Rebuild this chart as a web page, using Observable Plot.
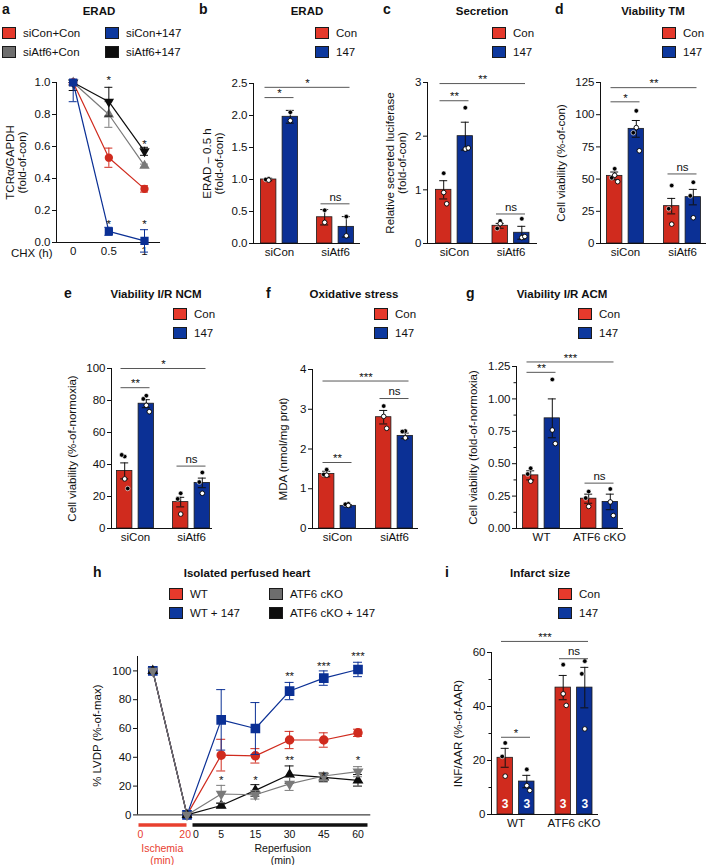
<!DOCTYPE html>
<html><head><meta charset="utf-8">
<script src="https://cdn.jsdelivr.net/npm/d3@7"></script>
<script src="https://cdn.jsdelivr.net/npm/@observablehq/plot@0.6"></script>
<style>
body{margin:0;background:#fff;}
#root{position:relative;width:707px;height:865px;overflow:hidden;font-family:"Liberation Sans",Arial,Helvetica,sans-serif;color:#111;background:#fff;}
.t{position:absolute;white-space:nowrap;line-height:1;}
.sw{position:absolute;width:12px;height:10px;border:1.5px solid #1a1a1a;}
</style></head><body><div id="root"></div>
<script>
// ---------------- DATA ----------------
// Panel a: ERAD time course
const aTime = [0, 0.5, 1];
const aSeries = ["siCon+Con", "siCon+147", "siAtf6+Con", "siAtf6+147"];
const aSiConCon = [1.0, 0.53, 0.335];
const aSiConConSem = [0.01, 0.06, 0.02];
const aSiCon147 = [1.0, 0.07, 0.01];
const aSiCon147Sem = [0.12, 0.025, 0.07];
const aSiAtf6Con = [1.0, 0.80, 0.48];
const aSiAtf6ConSem = [0.02, 0.08, 0.01];
const aSiAtf6147 = [1.0, 0.88, 0.57];
const aSiAtf6147Sem = [0.05, 0.09, 0.025];
const aYTicks = [0, 0.2, 0.4, 0.6, 0.8, 1.0];
const aStarX = [0.5, 0.5, 1, 1];
const aStarY = [1.03, 0.13, 0.63, 0.13];
const aStarLabels = ["*", "*", "*", "*"];

// Bar panels: order = [group1-Con, group1-147, group2-Con, group2-147]
const treatments = ["Con", "147"];
const siGroups = ["siCon", "siAtf6"];
const mouseGroups = ["WT", "ATF6 cKO"];

const bMean = [1.0, 1.98, 0.41, 0.26];
const bSem = [0.02, 0.10, 0.12, 0.16];
const bFilled = [[1.01, 1.0], [2.05], [0.52], [0.42]];
const bOpen = [[0.99], [1.92], [0.33], [0.12]];
const bSigLabels = ["*", "*", "ns"];
const bSigY = [2.28, 2.44, 0.62];
const bYTicks = [0, 0.5, 1.0, 1.5, 2.0, 2.5];

const cMean = [1.0, 2.0, 0.33, 0.2];
const cSem = [0.17, 0.26, 0.045, 0.12];
const cFilled = [[1.31], [2.53], [0.42, 0.28], [0.46]];
const cOpen = [[0.95, 0.74], [1.76, 1.78], [0.37], [0.11, 0.13]];
const cSigLabels = ["**", "**", "ns"];
const cSigY = [2.66, 2.98, 0.55];
const cYTicks = [0, 1, 2, 3];

const dMean = [52.5, 89, 29, 36];
const dSem = [3, 6.5, 6, 6];
const dFilled = [[58, 51], [103, 86], [45, 27], [47.5, 37]];
const dOpen = [[53, 48], [90, 72], [15], [20]];
const dSigLabels = ["*", "**", "ns"];
const dSigY = [110, 121, 54];
const dYTicks = [0, 25, 50, 75, 100, 125];

const eMean = [36, 78, 16.5, 28.5];
const eSem = [5, 2.5, 3, 3];
const eFilled = [[45, 46, 25], [83, 81], [22, 18.5], [35, 29]];
const eOpen = [[31], [77, 73], [9], [22]];
const eSigLabels = ["**", "*", "ns"];
const eSigY = [88, 100, 39];
const eYTicks = [0, 20, 40, 60, 80, 100];

const fMean = [1.37, 0.57, 2.8, 2.33];
const fSem = [0.07, 0.03, 0.17, 0.07];
const fFilled = [[1.48, 1.36], [0.62, 0.61], [3.08], [2.45, 2.44]];
const fOpen = [[1.34], [0.58], [2.82, 2.52], [2.28]];
const fSigLabels = ["**", "***", "ns"];
const fSigY = [1.66, 3.71, 3.27];
const fYTicks = [0, 1, 2, 3, 4];

const gMean = [0.41, 0.85, 0.23, 0.205];
const gSem = [0.035, 0.15, 0.035, 0.06];
const gFilled = [[0.465, 0.42], [1.15], [0.285, 0.235], [0.305]];
const gOpen = [[0.365], [0.76, 0.655], [0.17], [0.205, 0.10]];
const gSigLabels = ["**", "***", "ns"];
const gSigY = [1.205, 1.285, 0.35];
const gYTicks = [0, 0.25, 0.5, 0.75, 1.0, 1.25];
const gYMinor = [0.125, 0.375, 0.625, 0.875, 1.125];

const iMean = [21, 12.2, 47, 47];
const iSem = [3.5, 2.3, 4.5, 7.5];
const iFilled = [[26.5, 21.5], [16.7], [55.5], [56.8, 52.1]];
const iOpen = [[14.2], [10.7, 8.9], [44.7, 40.4], [31.7]];
const iN = [3, 3, 3, 3];
const iSigLabels = ["*", "***", "ns"];
const iSigY = [28.6, 64.1, 57.7];
const iYTicks = [0, 20, 40, 60];
const iYMinor = [10, 30, 50];

const sigPairs = [[0, 1], [0, 3], [2, 3]];

// Panel h: isolated perfused heart
const hSeries = ["WT", "WT + 147", "ATF6 cKO", "ATF6 cKO + 147"];
const hTime = ["baseline", "0", "5", "15", "30", "45", "60"];
const hWT = [100, 0, 41.5, 41, 52, 52, 57];
const hWTSem = [0, 0, 11, 5, 6, 5, 2.5];
const hWT147 = [100, 0, 66, 60, 86, 95, 101];
const hWT147Sem = [0, 0, 21, 18, 6, 5, 5];
const hKO = [100, 0, 14.5, 14, 21.5, 27, 30];
const hKOSem = [0, 0, 6, 3, 4.5, 2.5, 3.5];
const hKO147 = [100, 0, 6.5, 17, 28, 26, 24];
const hKO147Sem = [0, 0, 1.5, 4, 6, 3, 4];
const hYTicks = [0, 20, 40, 60, 80, 100];
const hStarIdx = [2, 3, 4, 4, 5, 5, 6, 6];
const hStarY = [26, 26, 40, 98, 29, 105, 40, 112];
const hStarLabels = ["*", "*", "**", "**", "*", "***", "*", "***"];
const hIschLabels = ["0", "20"];
const hRepLabels = ["0", "5", "15", "30", "45", "60"];

// ---------------- STYLE ----------------
const FONT = '"Liberation Sans", Arial, Helvetica, sans-serif';
const RED = "#d02b1e", BLUE = "#0b3095", GRAY = "#7a7a7a", BLACK = "#0d0d0d";
const LRED = "#e63a2c", LBLUE = "#0d389e", LGRAY = "#6e6e6e";
const root = document.getElementById("root");

function place(el, left, top) {
  el.style.position = "absolute";
  el.style.left = left + "px";
  el.style.top = top + "px";
  root.append(el);
}
function txt(str, x, baseline, {size = 11.5, bold = false, anchor = "start", color = "#111"} = {}) {
  const d = document.createElement("div");
  d.className = "t";
  d.textContent = str;
  d.style.fontSize = size + "px";
  d.style.fontWeight = bold ? "bold" : "normal";
  d.style.color = color;
  d.style.left = x + "px";
  d.style.top = (baseline - 0.8465 * size) + "px";
  if (anchor === "middle") d.style.transform = "translateX(-50%)";
  root.append(d);
}
function legend(x, top, labels, colors) {
  labels.forEach((lab, i) => {
    const t = top + i * 19;
    const s = document.createElement("div");
    s.className = "sw";
    s.style.left = x + "px";
    s.style.top = t + "px";
    s.style.background = colors[i];
    root.append(s);
    txt(lab, x + 21, t + 0.75 + 0.8465 * 11.5, {size: 11.5});
  });
}
const plotStyle = {fontFamily: FONT, fontSize: "11.5px", background: "transparent", overflow: "visible", color: "#111"};

const triangleDown = {
  draw(context, size) {
    const sqrt3 = Math.sqrt(3);
    const y = -Math.sqrt(size / (sqrt3 * 3));
    context.moveTo(0, -y * 2);
    context.lineTo(-sqrt3 * y, y);
    context.lineTo(sqrt3 * y, y);
    context.closePath();
  }
};
function yLabel(text, dx, lineHeight = 1.05) {
  return Plot.text([text], {frameAnchor: "left", textAnchor: "middle", lineAnchor: "middle", rotate: -90, dx, text: d => d, fontSize: 11.5, lineHeight});
}

// ---------------- BAR PANEL ----------------
function barPanel(o) {
  const {ax, g0, sp, xend, ytop, ybot} = o.frame;
  const d0 = (ax - g0) / sp, d1 = 1 + (xend - g0 - sp) / sp;
  const off = 10.8 / sp, hw = 7.7 / sp, cap = 4 / sp, inset = 4 / sp;
  const bars = o.mean.map((m, i) => ({
    g: Math.floor(i / 2), t: i % 2, m, e: o.sem[i],
    c: Math.floor(i / 2) + (i % 2 ? off : -off)
  }));
  const jf = [0, -3, 3, 1], jo = [0, 3, -3, -1];
  const dots = [];
  o.filled.forEach((arr, i) => arr.forEach((v, j) => dots.push({x: bars[i].c + jf[j] / sp, y: v, f: true})));
  o.open.forEach((arr, i) => arr.forEach((v, j) => dots.push({x: bars[i].c + jo[j] / sp, y: v, f: false})));
  const br = sigPairs.map(([a, b], k) => ({
    x1: bars[a].c - hw + inset, x2: bars[b].c + hw - inset, y: o.sigY[k], lab: o.sigLabels[k]
  }));
  const ml = 62, mr = 8, mt = 30, mb = 26;
  const marks = [
    Plot.rectY(bars.filter(d => d.t === 0), {x1: d => d.c - hw, x2: d => d.c + hw, y1: 0, y2: "m", fill: RED, stroke: "#1a1a1a", strokeWidth: 0.8}),
    Plot.rectY(bars.filter(d => d.t === 1), {x1: d => d.c - hw, x2: d => d.c + hw, y1: 0, y2: "m", fill: BLUE, stroke: "#1a1a1a", strokeWidth: 0.8}),
    Plot.ruleX(bars, {x: "c", y1: d => d.m - d.e, y2: d => d.m + d.e, stroke: "#111", strokeWidth: 1}),
    Plot.ruleY(bars, {y: d => d.m + d.e, x1: d => d.c - cap, x2: d => d.c + cap, stroke: "#111", strokeWidth: 1}),
    Plot.ruleY(bars, {y: d => d.m - d.e, x1: d => d.c - cap, x2: d => d.c + cap, stroke: "#111", strokeWidth: 1}),
    Plot.dot(dots.filter(d => d.f), {x: "x", y: "y", r: 2.3, fill: "#000", stroke: "#fff", strokeWidth: 0.6}),
    Plot.dot(dots.filter(d => !d.f), {x: "x", y: "y", r: 2.3, fill: "#fff", stroke: "#000", strokeWidth: 0.9}),
    Plot.ruleX([d0], {y1: 0, y2: o.ymax, stroke: "#111", strokeWidth: 1}),
    Plot.ruleY([0], {x1: d0, x2: d1, stroke: "#111", strokeWidth: 1}),
    Plot.axisY({ticks: o.yticks, tickSize: 4, tickPadding: 2, tickFormat: o.fmt, label: null}),
    Plot.axisX({ticks: [0, 1], tickSize: 0, tickPadding: 4, tickFormat: i => o.groups[i], label: null}),
    Plot.ruleY(br, {x1: "x1", x2: "x2", y: "y", stroke: "#444", strokeWidth: 0.9}),
    Plot.text(br.filter(d => d.lab !== "ns"), {x: d => (d.x1 + d.x2) / 2, y: "y", text: "lab", dy: -4, fontSize: 11.5}),
    Plot.text(br.filter(d => d.lab === "ns"), {x: d => (d.x1 + d.x2) / 2, y: "y", text: "lab", dy: -7, fontSize: 11.5}),
    yLabel(o.ylabel, o.labelDx)
  ];
  if (o.minor) marks.push(Plot.axisY({ticks: o.minor, tickSize: 2.5, tickFormat: () => "", label: null}));
  if (o.n) marks.push(Plot.text(bars, {x: "c", y: 0, text: (d, i) => String(o.n[i]), dy: -10, fill: "#fff", fontWeight: "bold", fontSize: 12}));
  const plot = Plot.plot({
    width: ml + (xend - ax) + mr, height: mt + (ybot - ytop) + mb,
    marginLeft: ml, marginRight: mr, marginTop: mt, marginBottom: mb,
    x: {domain: [d0, d1]}, y: {domain: [0, o.ymax]},
    style: plotStyle,
    marks
  });
  place(plot, ax - ml, ytop - mt);
}

// ---------------- PANEL A ----------------
{
  const ax = 56, x0px = 72.7, s = 71.3, ytop = 82, ybot = 242, xend = 160;
  const d0 = (ax - x0px) / s, d1 = (xend - x0px) / s;
  const cap = 4 / s;
  const ml = 62, mr = 10, mt = 14, mb = 28;
  const defs = [
    {y: aSiAtf6Con, e: aSiAtf6ConSem, color: GRAY, symbol: "triangle", r: 2.9},
    {y: aSiConCon, e: aSiConConSem, color: RED, symbol: "circle", r: 3.4},
    {y: aSiAtf6147, e: aSiAtf6147Sem, color: BLACK, symbol: triangleDown, r: 2.9},
    {y: aSiCon147, e: aSiCon147Sem, color: BLUE, symbol: "square", r: 3.8}
  ];
  const marks = [
    Plot.ruleX([d0], {y1: 0, y2: 1, stroke: "#111", strokeWidth: 1}),
    Plot.ruleY([0], {x1: d0, x2: d1, stroke: "#111", strokeWidth: 1}),
    Plot.axisY({ticks: aYTicks, tickSize: 4, tickPadding: 2, tickFormat: d3.format(".1f"), label: null}),
    Plot.axisX({ticks: aTime, tickSize: 0, tickPadding: 4, tickFormat: d => String(d), label: null})
  ];
  defs.forEach(sr => {
    const rows = aTime.map((t, i) => ({t, y: sr.y[i], e: sr.e[i]}));
    marks.push(Plot.line(rows, {x: "t", y: "y", stroke: sr.color, strokeWidth: 1.2}));
    marks.push(Plot.ruleX(rows, {x: "t", y1: d => d.y - d.e, y2: d => Math.min(1, d.y + d.e), stroke: sr.color, strokeWidth: 1}));
    marks.push(Plot.ruleY(rows, {y: d => Math.min(1, d.y + d.e), x1: d => d.t - cap, x2: d => d.t + cap, stroke: sr.color, strokeWidth: 1}));
    marks.push(Plot.ruleY(rows, {y: d => d.y - d.e, x1: d => d.t - cap, x2: d => d.t + cap, stroke: sr.color, strokeWidth: 1}));
    marks.push(Plot.dot(rows, {x: "t", y: "y", symbol: sr.symbol, r: sr.r, fill: sr.color, stroke: sr.color}));
  });
  marks.push(Plot.text(aStarX.map((x, i) => ({x, y: aStarY[i], l: aStarLabels[i]})), {x: "x", y: "y", text: "l", dy: 3, fontSize: 11.5}));
  marks.push(yLabel("TCRα/GAPDH\n(fold-of-con)", -40));
  marks.push(Plot.text(["CHX (h)"], {frameAnchor: "bottom-left", dx: -4, dy: 11, textAnchor: "end", lineAnchor: "middle", text: d => d, fontSize: 11.5}));
  const plot = Plot.plot({
    width: ml + (xend - ax) + mr, height: mt + (ybot - ytop) + mb,
    marginLeft: ml, marginRight: mr, marginTop: mt, marginBottom: mb,
    x: {domain: [d0, d1]}, y: {domain: [0, 1]},
    style: plotStyle, marks
  });
  place(plot, ax - ml, ytop - mt);
}

// ---------------- BAR PANELS ----------------
barPanel({frame: {ax: 253, g0: 279, sp: 56, xend: 360, ytop: 83, ybot: 243}, ymax: 2.5, yticks: bYTicks, fmt: d3.format(".1f"),
  groups: siGroups, mean: bMean, sem: bSem, filled: bFilled, open: bOpen, sigLabels: bSigLabels, sigY: bSigY,
  ylabel: "ERAD – 0.5 h\n(fold-of-con)", labelDx: -40});
barPanel({frame: {ax: 427, g0: 454, sp: 56.5, xend: 537, ytop: 82, ybot: 243}, ymax: 3, yticks: cYTicks, fmt: d3.format("d"),
  groups: siGroups, mean: cMean, sem: cSem, filled: cFilled, open: cOpen, sigLabels: cSigLabels, sigY: cSigY,
  ylabel: "Relative secreted luciferase\n(fold-of-con)", labelDx: -31});
barPanel({frame: {ax: 600, g0: 625, sp: 57, xend: 706, ytop: 82, ybot: 243}, ymax: 125, yticks: dYTicks, fmt: d3.format("d"),
  groups: siGroups, mean: dMean, sem: dSem, filled: dFilled, open: dOpen, sigLabels: dSigLabels, sigY: dSigY,
  ylabel: "Cell viability (%-of-con)", labelDx: -39});
barPanel({frame: {ax: 111, g0: 135, sp: 56, xend: 212, ytop: 368, ybot: 528}, ymax: 100, yticks: eYTicks, fmt: d3.format("d"),
  groups: siGroups, mean: eMean, sem: eSem, filled: eFilled, open: eOpen, sigLabels: eSigLabels, sigY: eSigY,
  ylabel: "Cell viability (%-of-normoxia)", labelDx: -39});
barPanel({frame: {ax: 312, g0: 337, sp: 57, xend: 418, ytop: 369, ybot: 528}, ymax: 4, yticks: fYTicks, fmt: d3.format("d"),
  groups: siGroups, mean: fMean, sem: fSem, filled: fFilled, open: fOpen, sigLabels: fSigLabels, sigY: fSigY,
  ylabel: "MDA (nmol/mg prot)", labelDx: -29});
barPanel({frame: {ax: 516, g0: 541, sp: 58, xend: 623, ytop: 366, ybot: 528}, ymax: 1.25, yticks: gYTicks, minor: gYMinor, fmt: d3.format(".2f"),
  groups: mouseGroups, mean: gMean, sem: gSem, filled: gFilled, open: gOpen, sigLabels: gSigLabels, sigY: gSigY,
  ylabel: "Cell viability (fold-of-normoxia)", labelDx: -43});
barPanel({frame: {ax: 491, g0: 515.5, sp: 58, xend: 598, ytop: 652, ybot: 814}, ymax: 60, yticks: iYTicks, minor: iYMinor, fmt: d3.format("d"),
  groups: mouseGroups, mean: iMean, sem: iSem, filled: iFilled, open: iOpen, sigLabels: iSigLabels, sigY: iSigY, n: iN,
  ylabel: "INF/AAR (%-of-AAR)", labelDx: -33});

// ---------------- PANEL H ----------------
{
  const ax = 136.7, x0px = 152, s = 34.2, xend = 370, ybot = 814, ppu = 1.44, ymax = 110;
  const ytop = ybot - ymax * ppu;
  const d0 = (ax - x0px) / s, d1 = (xend - x0px) / s;
  const cap = 4.5 / s;
  const ml = 62, mr = 10, mt = 8, mb = 52;
  const idx = hTime.map((_, i) => i);
  const defs = [
    {y: hWT, e: hWTSem, color: RED, symbol: "circle", r: 4.0},
    {y: hWT147, e: hWT147Sem, color: BLUE, symbol: "square", r: 4.6},
    {y: hKO147, e: hKO147Sem, color: BLACK, symbol: "triangle", r: 3.1},
    {y: hKO, e: hKOSem, color: GRAY, symbol: triangleDown, r: 3.1}
  ];
  const marks = [
    Plot.ruleX([d0], {y1: 0, y2: ymax, stroke: "#111", strokeWidth: 1}),
    Plot.ruleY([0], {x1: d0, x2: d1, stroke: "#111", strokeWidth: 1}),
    Plot.axisY({ticks: hYTicks, tickSize: 4, tickPadding: 2, tickFormat: d3.format("d"), label: null})
  ];
  defs.forEach(sr => {
    const rows = idx.map(i => ({i, y: sr.y[i], e: sr.e[i]}));
    const er = rows.filter(d => d.e > 0);
    marks.push(Plot.line(rows, {x: "i", y: "y", stroke: sr.color, strokeWidth: 1.2}));
    marks.push(Plot.ruleX(er, {x: "i", y1: d => d.y - d.e, y2: d => d.y + d.e, stroke: sr.color, strokeWidth: 1}));
    marks.push(Plot.ruleY(er, {y: d => d.y + d.e, x1: d => d.i - cap, x2: d => d.i + cap, stroke: sr.color, strokeWidth: 1}));
    marks.push(Plot.ruleY(er, {y: d => d.y - d.e, x1: d => d.i - cap, x2: d => d.i + cap, stroke: sr.color, strokeWidth: 1}));
    marks.push(Plot.dot(rows, {x: "i", y: "y", symbol: sr.symbol, r: sr.r, fill: sr.color, stroke: sr.color}));
  });
  marks.push(Plot.text(hStarIdx.map((x, k) => ({x, y: hStarY[k], l: hStarLabels[k]})), {x: "x", y: "y", text: "l", dy: 3, fontSize: 11.5}));
  // Ischemia / Reperfusion annotation under the axis
  const yb = -7, yl = -14, yt = -27;
  marks.push(Plot.ruleY([yb], {x1: d0 + 1.5 / s, x2: 1, stroke: "#e8402f", strokeWidth: 3.5}));
  marks.push(Plot.ruleY([yb], {x1: 1 + 6 / s, x2: 6 + 10 / s, stroke: "#111", strokeWidth: 3.5}));
  marks.push(Plot.text([hIschLabels[0]], {x: d0, y: yl, text: d => d, textAnchor: "start", fill: "#e8402f", fontSize: 10.5}));
  marks.push(Plot.text([hIschLabels[1]], {x: 1, y: yl, text: d => d, textAnchor: "end", dx: 4, fill: "#e8402f", fontSize: 10.5}));
  marks.push(Plot.text([hRepLabels[0]], {x: 1, y: yl, text: d => d, textAnchor: "middle", dx: 9, fontSize: 10.5}));
  marks.push(Plot.text(hRepLabels.slice(1).map((l, k) => ({l, i: k + 2})), {x: "i", y: yl, text: "l", fontSize: 10.5}));
  marks.push(Plot.text(["Ischemia\n(min)"], {x: (d0 + 1) / 2, y: yt, text: d => d, fill: "#e8402f", fontSize: 10.5, lineHeight: 1.18}));
  marks.push(Plot.text(["Reperfusion\n(min)"], {x: 3.8, y: yt, text: d => d, fontSize: 10.5, lineHeight: 1.18}));
  marks.push(yLabel("% LVDP (%-of-max)", -40));
  const plot = Plot.plot({
    width: ml + (xend - ax) + mr, height: mt + (ybot - ytop) + mb,
    marginLeft: ml, marginRight: mr, marginTop: mt, marginBottom: mb,
    x: {domain: [d0, d1], axis: null}, y: {domain: [0, ymax]},
    style: plotStyle, marks
  });
  place(plot, ax - ml, ytop - mt);
}

// ---------------- TITLES, LETTERS, LEGENDS ----------------
const letters = [["a", 2, 13.5], ["b", 199, 13.5], ["c", 383, 13.5], ["d", 555, 13.5],
                 ["e", 64, 298], ["f", 266, 298], ["g", 466, 298], ["h", 93, 577], ["i", 445, 577]];
letters.forEach(([l, x, y]) => txt(l, x, y, {size: 14, bold: true}));
const titles = [["ERAD", 99, 16], ["ERAD", 307, 16], ["Secretion", 482, 16], ["Viability TM", 653, 16],
                ["Viability I/R NCM", 156, 298.5], ["Oxidative stress", 354, 298.5], ["Viability I/R ACM", 562, 298.5],
                ["Isolated perfused heart", 247, 578], ["Infarct size", 540, 578]];
titles.forEach(([t, x, y]) => txt(t, x, y, {size: 11.5, bold: true, anchor: "middle"}));

legend(2, 27, [aSeries[0], aSeries[2]], [LRED, LGRAY]);
legend(105, 27, [aSeries[1], aSeries[3]], [LBLUE, BLACK]);
legend(315, 27, treatments, [LRED, LBLUE]);
legend(492, 27, treatments, [LRED, LBLUE]);
legend(662, 27, treatments, [LRED, LBLUE]);
legend(173, 308, treatments, [LRED, LBLUE]);
legend(374, 308, treatments, [LRED, LBLUE]);
legend(578, 308, treatments, [LRED, LBLUE]);
legend(169, 588, [hSeries[0], hSeries[1]], [LRED, LBLUE]);
legend(269, 588, [hSeries[2], hSeries[3]], [LGRAY, BLACK]);
legend(558, 588, treatments, [LRED, LBLUE]);
</script></body></html>
